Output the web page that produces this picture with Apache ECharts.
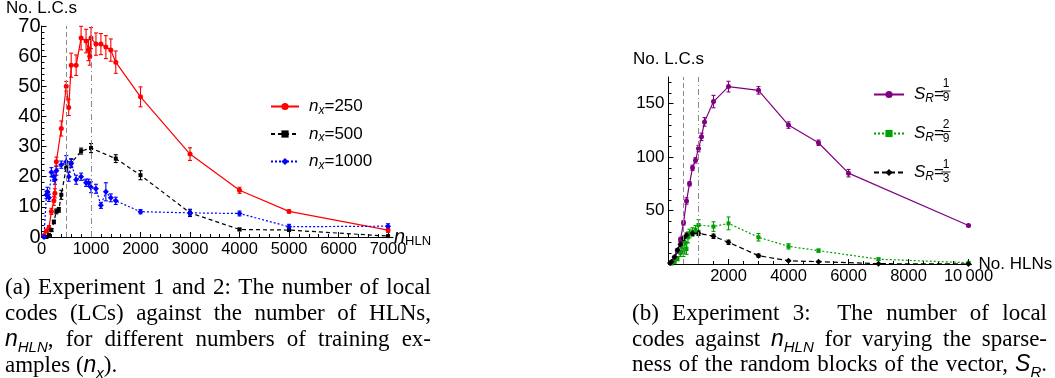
<!DOCTYPE html>
<html>
<head>
<meta charset="utf-8">
<script src="https://cdn.jsdelivr.net/npm/echarts@6/dist/echarts.min.js"></script>
<style>
  html, body { margin: 0; padding: 0; background: #fff; }
  #chart { width: 1055px; height: 378px; }
</style>
</head>
<body>
<div id="chart"></div>
<script>
const SANS = '"Liberation Sans", Arial, Helvetica, sans-serif';
const SERIF = '"Liberation Serif", "Times New Roman", serif';

// ---------- Experiment 1 & 2: local codes vs. number of HLNs ----------
const hlnTicksA = [0, 1000, 2000, 3000, 4000, 5000, 6000, 7000];
const lcTicksA = [0, 10, 20, 30, 40, 50, 60, 70];

const nx250X = [50, 100, 150, 200, 250, 270, 300, 400, 500, 550, 600, 700, 800, 900, 950, 975, 1000, 1100, 1200, 1300, 1400, 1500, 2000, 3000, 4000, 5000, 7000];
const nx250Y = [0.5, 2, 3, 8.5, 12, 14.5, 25, 36, 50, 43, 57, 57, 66, 65, 62, 60, 66, 64, 64, 63, 62, 58, 46.5, 27.5, 15.5, 8.5, 2.3];
const nx250Err = [0.3, 0.5, 0.8, 1, 1.5, 1.5, 1.5, 2.5, 1.6, 2.7, 4, 3.4, 3.9, 3.9, 3.5, 3, 3.5, 3.7, 3.5, 3.8, 3.7, 3.7, 3.3, 2.1, 1, 0.5, 0.8];

const nx500X = [100, 150, 200, 250, 300, 350, 400, 500, 600, 800, 1000, 1500, 2000, 3000, 4000, 5000, 7000];
const nx500Y = [0, 0.7, 2.3, 5, 8.5, 9, 14, 23, 24.5, 28.5, 29.5, 26, 20.5, 8, 2.5, 2.3, 0.3];
const nx500Err = [0.2, 0.3, 0.5, 0.6, 0.8, 0.8, 1.5, 1.2, 1.3, 1, 1.5, 1.3, 1.5, 1.2, 0.4, 0.3, 0.2];

const nx1000X = [50, 100, 120, 150, 200, 250, 270, 300, 400, 500, 550, 600, 700, 800, 900, 950, 1000, 1100, 1200, 1300, 1400, 1500, 2000, 3000, 4000, 5000, 7000];
const nx1000Y = [0, 14, 15, 13, 21.5, 20, 19, 22, 24, 25, 20, 24.5, 19, 20, 18, 18, 16.5, 16, 10.5, 15, 13, 12, 8.4, 8, 7.8, 3.4, 3.6];
const nx1000Err = [0.3, 1.2, 1.5, 1.2, 1.5, 1.5, 1.5, 1.5, 1.2, 2, 1.5, 1.5, 1.5, 1.2, 1.2, 1.2, 1.8, 1.5, 1, 3, 1.3, 1.2, 0.7, 1, 0.8, 0.8, 0.8];

// ---------- Experiment 3: sparseness of the random blocks ----------
const hlnTicksB = [2000, 4000, 6000, 8000, 10000];
const lcTicksB = [50, 100, 150];

const sr1X = [100, 200, 300, 400, 500, 600, 700, 800, 900, 1000, 1100, 1200, 1500, 2000, 3000, 4000, 5000, 6000, 10000];
const sr1Y = [1, 5, 12, 23, 38.5, 59, 75, 90, 97, 108, 119, 133, 152, 166, 162.5, 130, 113.5, 85, 36];
const sr1Err = [0.5, 1, 1.5, 2, 2, 3, 2, 2.5, 2.5, 3, 3.5, 4, 5.8, 5, 3.5, 3, 2.5, 3.5, 1];

const sr2X = [100, 200, 300, 400, 450, 500, 550, 600, 650, 700, 800, 900, 1000, 1500, 2000, 3000, 4000, 5000, 7000, 10000];
const sr2Y = [0.5, 2, 5, 10, 16, 11, 20, 14, 25, 28.5, 30, 32, 36.5, 35, 38, 25, 16.5, 12.5, 4.5, 1.2];
const sr2Err = [0.5, 1, 2, 3, 4, 4, 5, 5, 5, 4, 4, 4, 5, 4.5, 6, 3.5, 2.5, 1.5, 1, 0.5];

const sr3X = [50, 100, 200, 300, 400, 500, 600, 800, 1000, 1500, 2000, 3000, 4000, 5000, 7000, 10000];
const sr3Y = [1, 2, 6.5, 13, 18.5, 24, 27, 28.7, 28.7, 26, 20.3, 7.8, 3, 2.2, 0.3, 0];
const sr3Err = [0.3, 0.5, 1, 1.5, 2, 2, 2, 2, 2, 2, 2, 1.5, 0.5, 0.3, 0.2, 0.1];

// Legend fractions for S_R
const srFractions = [['1', '9'], ['2', '9'], ['1', '3']];

// ---------- captions ----------
// a word is either a plain string (roman) or a list of [text, kind] pieces
const captionA = [
  ['(a)', 'Experiment', '1', 'and', '2:', 'The', 'number', 'of', 'local'],
  ['codes', '(LCs)', 'against', 'the', 'number', 'of', 'HLNs,'],
  [[['n', 'm'], ['HLN', 's'], [',', 'r']], 'for', 'different', 'numbers', 'of', 'training', 'ex-'],
  ['amples', [['(', 'r'], ['n', 'm'], ['x', 's'], [').', 'r']]]
];
const captionB = [
  ['(b)', 'Experiment', '3:', '', 'The', 'number', 'of', 'local'],
  ['codes', 'against', [['n', 'm'], ['HLN', 's']], 'for', 'varying', 'the', 'sparse-'],
  ['ness', 'of', 'the', 'random', 'blocks', 'of', 'the', 'vector,', [['S', 'm'], ['R', 's'], ['.', 'r']]]
];

function range(a, b, step, skip) {
  const out = [];
  for (let v = a; v <= b + 1e-9; v += step) if (v % skip !== 0) out.push(v);
  return out;
}

function lineSeries(name, xs, ys, color, dash, symbol, size, axis, extra) {
  return Object.assign({
    name, type: 'line', xAxisIndex: axis, yAxisIndex: axis,
    data: xs.map((x, i) => [x, ys[i]]),
    symbol, symbolSize: size, showSymbol: true, clip: false,
    lineStyle: { color, width: 1.2, type: dash },
    itemStyle: { color },
    emphasis: { disabled: true },
    z: 4, animation: false
  }, extra || {});
}

function errorSeries(xs, ys, es, color, axis) {
  return {
    type: 'custom', xAxisIndex: axis, yAxisIndex: axis, silent: true, z: 3,
    animation: false, clip: false,
    data: xs.map((x, i) => [x, ys[i] - es[i], ys[i] + es[i]]),
    encode: { x: 0, y: [1, 2] },
    renderItem(params, api) {
      const lo = api.coord([api.value(0), api.value(1)]);
      const hi = api.coord([api.value(0), api.value(2)]);
      const c = 2;
      const st = { stroke: color, lineWidth: 1.1 };
      return {
        type: 'group',
        children: [
          { type: 'line', shape: { x1: lo[0], y1: lo[1], x2: hi[0], y2: hi[1] }, style: st },
          { type: 'line', shape: { x1: lo[0] - c, y1: lo[1], x2: lo[0] + c, y2: lo[1] }, style: st },
          { type: 'line', shape: { x1: hi[0] - c, y1: hi[1], x2: hi[0] + c, y2: hi[1] }, style: st }
        ]
      };
    }
  };
}

const guideLines = {
  silent: true, symbol: 'none', label: { show: false }, animation: false,
  emphasis: { disabled: true },
  data: [
    { xAxis: 500, lineStyle: { color: '#8a8a8a', width: 1, type: [5, 3] } },
    { xAxis: 1000, lineStyle: { color: '#8a8a8a', width: 1, type: [6, 3, 1, 3] } }
  ]
};

// ---------- caption layout (justified lines) ----------
const measureCtx = document.createElement('canvas').getContext('2d');
const capFonts = { r: `23px ${SERIF}`, m: `italic 23px ${SANS}`, s: `italic 15px ${SANS}` };
const capShift = { r: 0, m: 0, s: 6 };
function textWidth(font, t) { measureCtx.font = font; return measureCtx.measureText(t).width; }
function midToBase(font) {
  measureCtx.font = font; measureCtx.textBaseline = 'middle';
  return measureCtx.measureText('H').actualBoundingBoxDescent;
}
function layoutCaption(lines, x0, x1, base0, lead, justify) {
  const els = [];
  lines.forEach((line, li) => {
    const words = line.map(w => (typeof w === 'string' ? [[w, 'r']] : w));
    const widths = words.map(w => w.reduce((s, p) => s + textWidth(capFonts[p[1]], p[0]), 0));
    const total = widths.reduce((a, b) => a + b, 0);
    const gap = justify[li] ? (x1 - x0 - total) / (words.length - 1) : textWidth(capFonts.r, ' ');
    const baseY = base0 + li * lead;
    let x = x0;
    words.forEach((w, wi) => {
      let cx = x;
      w.forEach(([t, k]) => {
        if (t) {
          els.push({
            type: 'text', silent: true,
            style: {
              text: t, x: cx, y: baseY + capShift[k] - midToBase(capFonts[k]),
              font: capFonts[k], fill: '#000', textAlign: 'left', textVerticalAlign: 'middle'
            }
          });
        }
        cx += textWidth(capFonts[k], t);
      });
      x += widths[wi] + gap;
    });
  });
  return els;
}

// ---------- legend fractions ----------
function fractionEls() {
  const els = [];
  srFractions.forEach(([num, den], i) => {
    const cy = 91 + 40.5 * i;
    const cx = 946;
    const f = `12px ${SANS}`;
    els.push({ type: 'text', silent: true, style: { text: num, x: cx, y: cy - 7, font: f, fill: '#000', textAlign: 'center', textVerticalAlign: 'middle' } });
    els.push({ type: 'line', silent: true, shape: { x1: cx - 4.5, y1: cy, x2: cx + 4.5, y2: cy }, style: { stroke: '#000', lineWidth: 0.9 } });
    els.push({ type: 'text', silent: true, style: { text: den, x: cx, y: cy + 7, font: f, fill: '#000', textAlign: 'center', textVerticalAlign: 'middle' } });
  });
  return els;
}

const axisBlack = { lineStyle: { color: '#000', width: 1 }, onZero: false };
const tickFont = (size) => ({ color: '#000', fontFamily: SANS, fontSize: size });
const plainNum = v => (v === 10000 ? '10\u2009000' : String(v));

function mainX(grid, max, ticks, labelSize, name, nameGap, nameStyle) {
  return {
    type: 'value', gridIndex: grid, min: 0, max, position: 'bottom',
    axisLine: axisBlack,
    axisTick: { inside: true, length: 5, customValues: ticks, lineStyle: { color: '#000' } },
    axisLabel: Object.assign({ customValues: ticks, margin: 4, formatter: plainNum }, tickFont(labelSize)),
    splitLine: { show: false },
    name, nameLocation: 'end', nameGap, nameMoveOverlap: false, nameTextStyle: nameStyle
  };
}
function minorX(grid, max, ticks) {
  return {
    type: 'value', gridIndex: grid, min: 0, max, position: 'bottom',
    axisLine: { show: false }, axisLabel: { show: false }, splitLine: { show: false },
    axisTick: { inside: true, length: 3, customValues: ticks, lineStyle: { color: '#000' } }
  };
}
function mainY(grid, max, ticks, labelSize, margin) {
  return {
    type: 'value', gridIndex: grid, min: 0, max, position: 'left',
    axisLine: axisBlack,
    axisTick: { inside: true, length: 5, customValues: ticks, lineStyle: { color: '#000' } },
    axisLabel: Object.assign({ customValues: ticks, margin, formatter: plainNum }, tickFont(labelSize)),
    splitLine: { show: false },
    name: 'No. L.C.s', nameLocation: 'end', nameGap: 9, nameMoveOverlap: false,
    nameTextStyle: { color: '#000', fontFamily: SANS, fontSize: 17, align: 'center', verticalAlign: 'bottom' }
  };
}
function minorY(grid, max, ticks) {
  return {
    type: 'value', gridIndex: grid, min: 0, max, position: 'left',
    axisLine: { show: false }, axisLabel: { show: false }, splitLine: { show: false },
    axisTick: { inside: true, length: 3, customValues: ticks, lineStyle: { color: '#000' } }
  };
}

const legendRich = {
  i: { fontFamily: SANS, fontStyle: 'italic', fontSize: 17, lineHeight: 20, color: '#000', padding: [0, 0, 0, 5] },
  s: { fontFamily: SANS, fontStyle: 'italic', fontSize: 12, lineHeight: 12, verticalAlign: 'bottom', color: '#000' },
  t: { fontFamily: SANS, fontSize: 17, lineHeight: 20, color: '#000' }
};

const chart = echarts.init(document.getElementById('chart'), null, { renderer: 'canvas' });
chart.setOption({
  animation: false,
  backgroundColor: '#fff',
  grid: [
    { left: 41.5, top: 25, width: 351.5, height: 212 },
    { left: 668.5, top: 77, width: 303, height: 187 }
  ],
  xAxis: [
    mainX(0, 7100, hlnTicksA, 16.5, '{i|n}{s|HLN}', 1, {
      rich: {
        i: { fontFamily: SANS, fontStyle: 'italic', fontSize: 20, lineHeight: 22, color: '#000' },
        s: { fontFamily: SANS, fontSize: 13, lineHeight: 13, verticalAlign: 'bottom', color: '#000' }
      }
    }),
    mainX(1, 10100, hlnTicksB, 16.5, 'No. HLNs', 7, { color: '#000', fontFamily: SANS, fontSize: 17 }),
    minorX(0, 7100, range(200, 7000, 200, 1000)),
    minorX(1, 10100, range(500, 10000, 500, 2000))
  ],
  yAxis: [
    mainY(0, 70, lcTicksA, 20, 1),
    mainY(1, 175, lcTicksB, 17, 4),
    minorY(0, 70, range(2, 70, 2, 10)),
    minorY(1, 175, range(10, 170, 10, 50))
  ],
  legend: [
    {
      data: ['nx250', 'nx500', 'nx1000'], left: 265, top: 93, orient: 'vertical',
      itemWidth: 28, itemHeight: 9, itemGap: 9, selectedMode: false,
      formatter: n => `{i|n}{s|x}{t|=${n.slice(2)}}`,
      textStyle: { rich: legendRich }
    },
    {
      data: ['sr1', 'sr2', 'sr3'], left: 868, top: 81, orient: 'vertical',
      itemWidth: 30, itemHeight: 9, itemGap: 20.5, selectedMode: false,
      formatter: () => '{i|S}{s|R}{t|=}',
      textStyle: { rich: legendRich }
    }
  ],
  series: [
    errorSeries(nx250X, nx250Y, nx250Err, '#ff0000', 0),
    errorSeries(nx500X, nx500Y, nx500Err, '#000000', 0),
    errorSeries(nx1000X, nx1000Y, nx1000Err, '#0000ff', 0),
    lineSeries('nx250', nx250X, nx250Y, '#ff0000', 'solid', 'circle', 5, 0, { markLine: guideLines }),
    lineSeries('nx500', nx500X, nx500Y, '#000000', [4, 3], 'rect', 4, 0),
    lineSeries('nx1000', nx1000X, nx1000Y, '#0000ff', [2, 2], 'diamond', 6, 0),

    errorSeries(sr1X, sr1Y, sr1Err, '#800080', 1),
    errorSeries(sr2X, sr2Y, sr2Err, '#00a000', 1),
    errorSeries(sr3X, sr3Y, sr3Err, '#000000', 1),
    lineSeries('sr1', sr1X, sr1Y, '#800080', 'solid', 'circle', 5, 1, { markLine: guideLines }),
    lineSeries('sr2', sr2X, sr2Y, '#00a000', [2, 2], 'rect', 4, 1),
    lineSeries('sr3', sr3X, sr3Y, '#000000', [5, 3], 'diamond', 6, 1)
  ],
  graphic: [
    ...fractionEls(),
    ...layoutCaption(captionA, 5, 431, 294, 26, [true, true, true, false]),
    ...layoutCaption(captionB, 632, 1047, 320, 25.7, [true, true, true])
  ]
});
</script>
</body>
</html>
